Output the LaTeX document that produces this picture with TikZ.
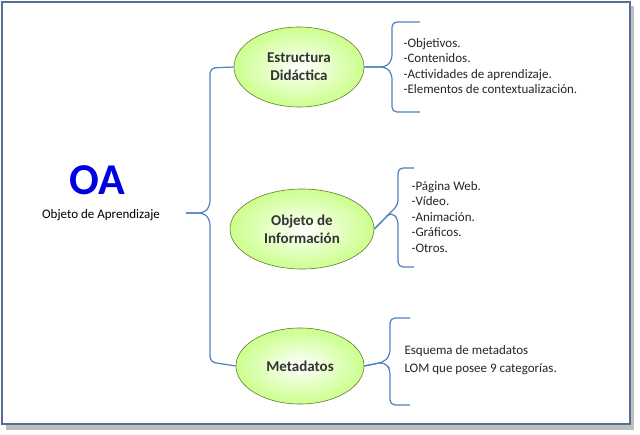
\documentclass[tikz,border=0pt]{standalone}
\usepackage{fontspec}
\setmainfont{Carlito}
\usetikzlibrary{shapes.geometric}
\definecolor{brc}{RGB}{79,129,189}
\definecolor{frc}{RGB}{85,110,150}
\begin{document}
\begin{tikzpicture}[x=1pt,y=-1pt,
  bub/.style={ellipse,draw=olive!60!green!70!black,line width=0.6pt,inner color=white,outer color=green!45!yellow!45,minimum width=130pt,minimum height=80pt,font=\bfseries\fontsize{15}{18}\selectfont,align=center,text=black!80},
  br/.style={draw=brc,line width=1.2pt,rounded corners=5pt},
  lst/.style={align=left,anchor=west,font=\fontsize{13}{15.5}\selectfont,text=black!85}]
\useasboundingbox (0,0) rectangle (640,434);
\fill[black!25] (6,6) rectangle (634,430);
\draw[draw=frc,line width=1.5pt,fill=white] (2,2) rectangle (630,424);
\node[bub] (e1) at (299,67) {Estructura\\Didáctica};
\node[bub,minimum width=144pt] (e2) at (302,229) {Objeto de\\Información};
\node[bub,minimum width=128pt,minimum height=76pt] (e3) at (300,366) {Metadatos};
\node[font=\bfseries\fontsize{44}{46}\selectfont,text=blue!90!black] (oa) at (97,180) {OA};
\node[font=\fontsize{13}{15}\selectfont] (od) at (101,215) {Objeto de Aprendizaje};
% big brace
\draw[br] (e1.west) -- (210,68) -- (210,206) -- (204,213) -- (186,213);
\draw[br] (e3.west) -- (210,362) -- (210,220) -- (204,213) -- (186,213);
% small braces
\draw[br] (420,22) -- (392,22) -- (392,60) -- (386,67) -- (e1.east);
\draw[br] (420,112) -- (392,112) -- (392,74) -- (386,67) -- (e1.east);
\draw[br] (414,168) -- (398,168) -- (398,205) -- (391,212) -- (e2.east);
\draw[br] (414,267) -- (398,267) -- (398,219) -- (391,212) -- (e2.east);
\draw[br] (410,318) -- (390,318) -- (390,355) -- (384,362) -- (e3.east);
\draw[br] (410,405) -- (390,405) -- (390,369) -- (384,362) -- (e3.east);
\node[lst] (l1) at (400,66) {-Objetivos.\\-Contenidos.\\-Actividades de aprendizaje.\\-Elementos de contextualización.};
\node[lst] (l2) at (408,217) {-Página Web.\\-Vídeo.\\-Animación.\\-Gráficos.\\-Otros.};
\node[lst,font=\fontsize{13}{18}\selectfont] (l3) at (401,360) {Esquema de metadatos\\LOM que posee 9 categorías.};
\end{tikzpicture}
\end{document}
